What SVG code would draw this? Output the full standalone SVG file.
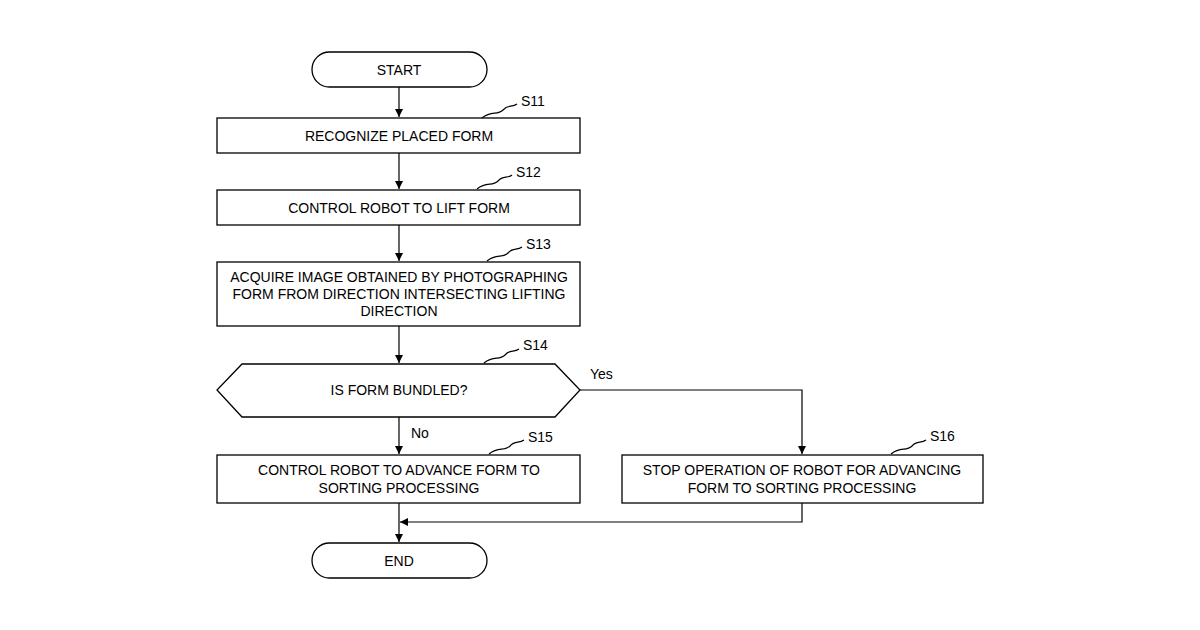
<svg xmlns="http://www.w3.org/2000/svg" width="1200" height="630" viewBox="0 0 1200 630">
<style>
.b{fill:#fff;stroke:#000;stroke-width:1.3}
.t{font-family:"Liberation Sans",Arial,sans-serif;font-size:14px;text-anchor:middle;fill:#000}
.l{font-family:"Liberation Sans",Arial,sans-serif;font-size:14px;fill:#000}
.c{fill:none;stroke:#000;stroke-width:1.2}
</style>
<defs><marker id="a" markerWidth="10" markerHeight="10" refX="9" refY="5" orient="auto" markerUnits="userSpaceOnUse"><path d="M1,1 L9,5 L1,9 Z" fill="#000"/></marker></defs>
<rect width="1200" height="630" fill="#fff"/>
<g id="connectors">
<path class="c" d="M399,87 V117" marker-end="url(#a)"/>
<path class="c" d="M399,153 V189" marker-end="url(#a)"/>
<path class="c" d="M399,225 V261" marker-end="url(#a)"/>
<path class="c" d="M399,326 V363" marker-end="url(#a)"/>
<path class="c" d="M399,417 V454" marker-end="url(#a)"/>
<path class="c" d="M580,390 H802 V454" marker-end="url(#a)"/>
<path class="c" d="M399,503 V542" marker-end="url(#a)"/>
<path class="c" d="M802,503 V522 H400" marker-end="url(#a)"/>
<text class="l" x="590" y="379">Yes</text>
<text class="l" x="411" y="438">No</text>
</g>
<g id="start"><rect class="b" x="312" y="52" width="175" height="35" rx="17.5"/><text class="t" x="399" y="75">START</text></g>
<g id="s11"><rect class="b" x="217" y="118" width="363" height="35"/><text class="t" x="399" y="141">RECOGNIZE PLACED FORM</text>
<path class="c" d="M482,118 C492,110 497,116 503,110 C508,104 512,108 517,104"/><text class="l" x="521" y="106">S11</text></g>
<g id="s12"><rect class="b" x="217" y="190" width="363" height="35"/><text class="t" x="399" y="213">CONTROL ROBOT TO LIFT FORM</text>
<path class="c" d="M477,189 C487,181 492,187 498,181 C503,175 507,179 512,175"/><text class="l" x="516" y="177">S12</text></g>
<g id="s13"><rect class="b" x="217" y="262" width="363" height="64"/><text class="t" x="399" y="282">ACQUIRE IMAGE OBTAINED BY PHOTOGRAPHING</text><text class="t" x="399" y="299">FORM FROM DIRECTION INTERSECTING LIFTING</text><text class="t" x="399" y="316">DIRECTION</text>
<path class="c" d="M487,261 C497,253 502,259 508,253 C513,247 517,251 522,247"/><text class="l" x="526" y="249">S13</text></g>
<g id="s14"><polygon class="b" points="242,364 555,364 580,390 555,417 242,417 217,390"/><text class="t" x="399" y="395">IS FORM BUNDLED?</text>
<path class="c" d="M484,363 C494,355 499,361 505,355 C510,349 514,353 519,349"/><text class="l" x="523" y="350">S14</text></g>
<g id="s15"><rect class="b" x="217" y="455" width="363" height="48"/><text class="t" x="399" y="475">CONTROL ROBOT TO ADVANCE FORM TO</text><text class="t" x="399" y="493">SORTING PROCESSING</text>
<path class="c" d="M489,454 C499,446 504,452 510,446 C515,440 519,444 524,440"/><text class="l" x="528" y="442">S15</text></g>
<g id="s16"><rect class="b" x="622" y="455" width="361" height="48"/><text class="t" x="802" y="475">STOP OPERATION OF ROBOT FOR ADVANCING</text><text class="t" x="802" y="493">FORM TO SORTING PROCESSING</text>
<path class="c" d="M891,454 C901,446 906,452 912,446 C917,440 921,444 926,440"/><text class="l" x="930" y="441">S16</text></g>
<g id="end"><rect class="b" x="312" y="543" width="175" height="35" rx="17.5"/><text class="t" x="399" y="566">END</text></g>
</svg>
